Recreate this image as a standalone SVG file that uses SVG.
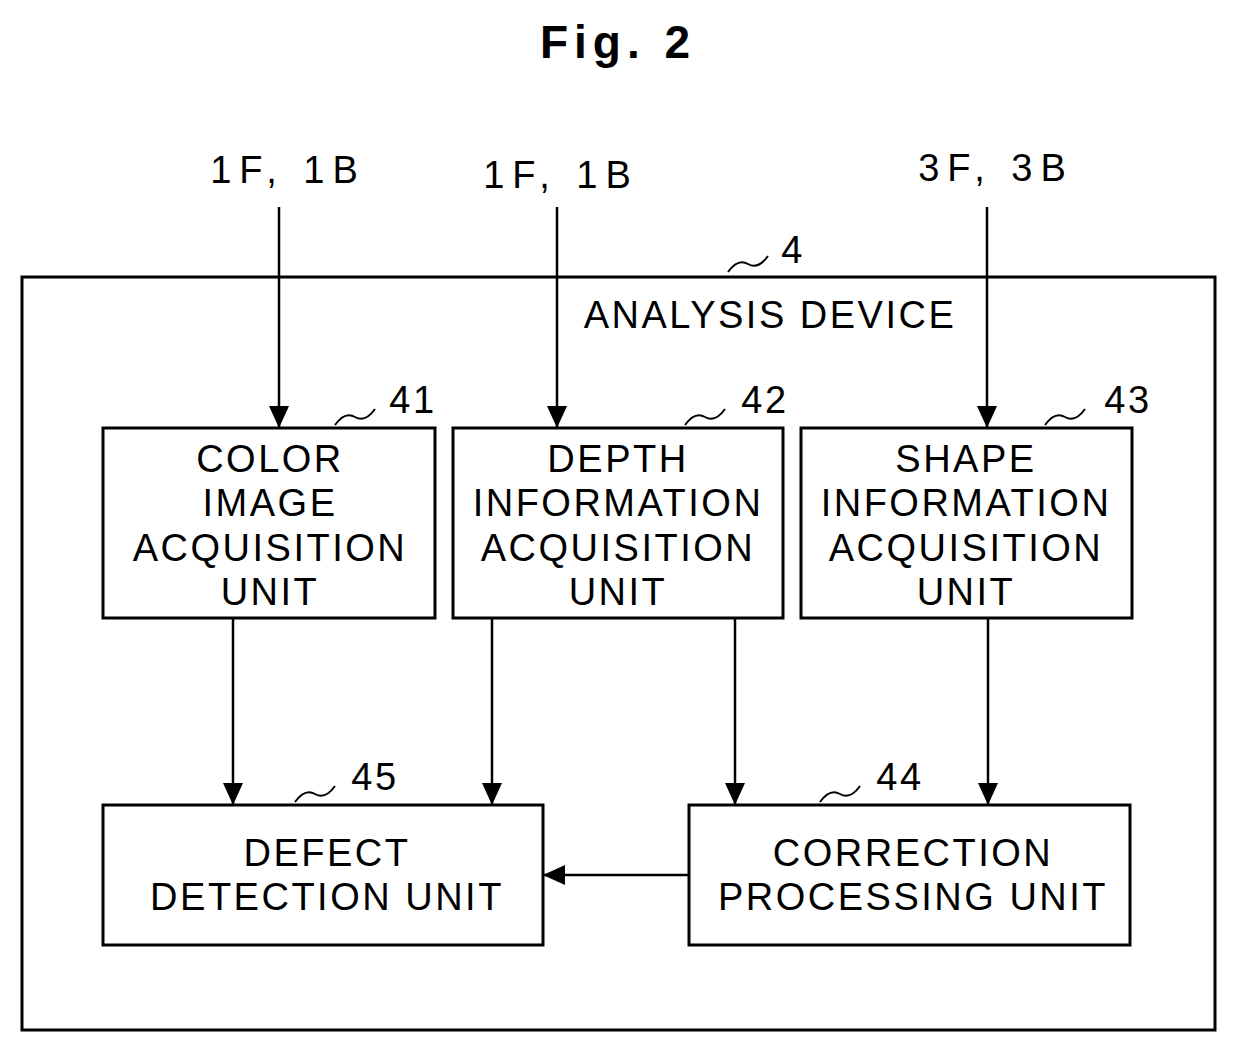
<svg xmlns="http://www.w3.org/2000/svg" width="1236" height="1053" viewBox="0 0 1236 1053">
<style>
.b{fill:none;stroke:#000;stroke-width:3}
.t{font-family:"Liberation Sans",Arial,sans-serif;font-size:38px;text-anchor:middle;fill:#000;letter-spacing:2.5px}
.in{letter-spacing:8px}
.c{stroke:#000;stroke-width:2.5;fill:none}
.l{stroke:#000;stroke-width:2;fill:none}
</style>
<defs><marker id="ah" markerWidth="22" markerHeight="20" refX="22" refY="10" orient="auto" markerUnits="userSpaceOnUse" viewBox="0 0 22 20"><path d="M0,0 L22,10 L0,20 Z"/></marker></defs>
<rect width="1236" height="1053" fill="#fff"/>
<text x="618" y="58" class="t" style="font-size:46px;font-weight:bold;letter-spacing:6px">Fig. 2</text>
<g id="device"><rect x="22" y="277" width="1193" height="753" class="b"/>
<text x="770" y="328" class="t">ANALYSIS DEVICE</text>
<path class="l" d="M728,272 q10,-14 20,-8 t20,-8"/><text x="793" y="263" class="t">4</text></g>
<g id="n41"><rect x="103" y="428" width="332" height="190" class="b"/>
<text class="t" x="270" y="472">COLOR</text><text class="t" x="270" y="516">IMAGE</text><text class="t" x="270" y="561">ACQUISITION</text><text class="t" x="270" y="605">UNIT</text>
<path class="l" d="M335,425 q10,-14 20,-8 t20,-8"/><text x="413" y="413" class="t">41</text></g>
<g id="n42"><rect x="453" y="428" width="330" height="190" class="b"/>
<text class="t" x="618" y="472">DEPTH</text><text class="t" x="618" y="516">INFORMATION</text><text class="t" x="618" y="561">ACQUISITION</text><text class="t" x="618" y="605">UNIT</text>
<path class="l" d="M685,425 q10,-14 20,-8 t20,-8"/><text x="765" y="413" class="t">42</text></g>
<g id="n43"><rect x="801" y="428" width="331" height="190" class="b"/>
<text class="t" x="966" y="472">SHAPE</text><text class="t" x="966" y="516">INFORMATION</text><text class="t" x="966" y="561">ACQUISITION</text><text class="t" x="966" y="605">UNIT</text>
<path class="l" d="M1045,425 q10,-14 20,-8 t20,-8"/><text x="1128" y="413" class="t">43</text></g>
<g id="n45"><rect x="103" y="805" width="440" height="140" class="b"/>
<text class="t" x="327" y="866">DEFECT</text><text class="t" x="327" y="910">DETECTION UNIT</text>
<path class="l" d="M295,802 q10,-14 20,-8 t20,-8"/><text x="375" y="790" class="t">45</text></g>
<g id="n44"><rect x="689" y="805" width="441" height="140" class="b"/>
<text class="t" x="913" y="866">CORRECTION</text><text class="t" x="913" y="910">PROCESSING UNIT</text>
<path class="l" d="M820,802 q10,-14 20,-8 t20,-8"/><text x="900" y="790" class="t">44</text></g>
<g id="inputs"><text class="t in" x="288" y="183">1F, 1B</text><text class="t in" x="561" y="188">1F, 1B</text><text class="t in" x="996" y="181">3F, 3B</text></g>
<g id="connectors">
<line class="c" x1="279" y1="207" x2="279" y2="428" marker-end="url(#ah)"/>
<line class="c" x1="557" y1="207" x2="557" y2="428" marker-end="url(#ah)"/>
<line class="c" x1="987" y1="207" x2="987" y2="428" marker-end="url(#ah)"/>
<line class="c" x1="233" y1="618" x2="233" y2="805" marker-end="url(#ah)"/>
<line class="c" x1="492" y1="618" x2="492" y2="805" marker-end="url(#ah)"/>
<line class="c" x1="735" y1="618" x2="735" y2="805" marker-end="url(#ah)"/>
<line class="c" x1="988" y1="618" x2="988" y2="805" marker-end="url(#ah)"/>
<line class="c" x1="689" y1="875" x2="543" y2="875" marker-end="url(#ah)"/>
</g>
</svg>
